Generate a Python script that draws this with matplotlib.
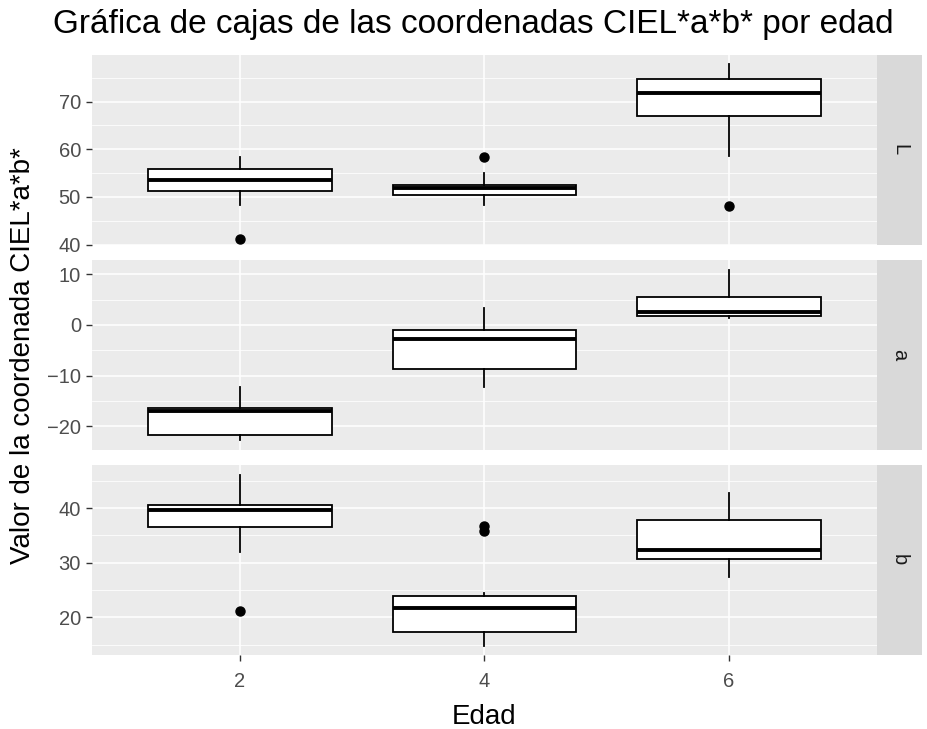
"""
Boxplots of CIEL*a*b* coordinates by age, ggplot-style facet_grid (3 rows).
"""
import matplotlib
matplotlib.use("Agg")
import matplotlib.pyplot as plt
from matplotlib.ticker import MultipleLocator

plt.rcParams["font.family"] = ["Liberation Sans", "DejaVu Sans"]

# ---- data ----
ages = [2, 4, 6]

L_whislo = [48.2, 48.2, 58.5]
L_q1 = [51.3, 50.3, 67.0]
L_med = [53.5, 51.9, 71.8]
L_q3 = [55.8, 52.4, 74.8]
L_whishi = [58.4, 55.1, 78.0]
L_fliers = [[41.2], [58.3], [48.0]]

a_whislo = [-22.8, -12.3, 1.3]
a_q1 = [-21.8, -8.7, 1.8]
a_med = [-17.0, -2.8, 2.6]
a_q3 = [-16.5, -1.1, 5.4]
a_whishi = [-12.2, 3.3, 10.9]
a_fliers = [[], [], []]

b_whislo = [31.9, 14.7, 27.4]
b_q1 = [36.5, 17.3, 30.7]
b_med = [39.7, 21.7, 32.3]
b_q3 = [40.5, 23.9, 37.9]
b_whishi = [46.0, 24.4, 42.8]
b_fliers = [[21.1], [36.8, 35.8], []]

facets = ["L", "a", "b"]
ylims = {"L": (39.9, 79.8), "a": (-24.7, 12.8), "b": (13.1, 47.9)}

series = {
    "L": (L_whislo, L_q1, L_med, L_q3, L_whishi, L_fliers),
    "a": (a_whislo, a_q1, a_med, a_q3, a_whishi, a_fliers),
    "b": (b_whislo, b_q1, b_med, b_q3, b_whishi, b_fliers),
}

W, H = 927, 729
fig = plt.figure(figsize=(W / 100, H / 100), dpi=100)

PX_L, PX_R, STRIP_R = 92, 877, 922
tops = [55, 260, 465]
PH = 190

for fac, top in zip(facets, tops):
    ax = fig.add_axes([PX_L / W, 1 - (top + PH) / H, (PX_R - PX_L) / W, PH / H])
    lo, q1, med, q3, hi, fl = series[fac]
    stats = [dict(whislo=lo[i], q1=q1[i], med=med[i], q3=q3[i], whishi=hi[i],
                  fliers=fl[i]) for i in range(len(ages))]
    ax.set_facecolor("#EBEBEB")
    ax.bxp(stats, positions=ages, widths=1.5, showcaps=False, patch_artist=True,
           boxprops=dict(facecolor="white", edgecolor="black", linewidth=1.3),
           medianprops=dict(color="black", linewidth=2.8, solid_capstyle="butt"),
           whiskerprops=dict(color="black", linewidth=1.3),
           flierprops=dict(marker="o", markerfacecolor="black", markeredgecolor="black",
                           markersize=6.5), zorder=3)
    ax.set_xlim(0.79, 7.21)
    ax.set_ylim(*ylims[fac])
    ax.yaxis.set_major_locator(MultipleLocator(10))
    ax.yaxis.set_minor_locator(MultipleLocator(5))
    ax.set_xticks(ages)
    ax.grid(which="major", color="white", linewidth=1.1, zorder=0)
    ax.grid(which="minor", axis="y", color="white", linewidth=0.55, zorder=0)
    ax.set_axisbelow(True)
    for s in ax.spines.values():
        s.set_visible(False)
    ax.tick_params(axis="both", which="major", length=4, width=1, color="#333333",
                   labelcolor="#4D4D4D", labelsize=14.5)
    ax.tick_params(axis="y", pad=4)
    ax.tick_params(axis="x", pad=8)
    ax.tick_params(axis="both", which="minor", length=0)
    if fac != "b":
        ax.tick_params(axis="x", labelbottom=False, length=0)
    # strip on the right
    sax = fig.add_axes([PX_R / W, 1 - (top + PH) / H, (STRIP_R - PX_R) / W, PH / H])
    sax.set_facecolor("#D9D9D9")
    sax.set_xticks([]); sax.set_yticks([])
    for s in sax.spines.values():
        s.set_visible(False)
    sax.text(0.5, 0.5, fac, rotation=-90, ha="center", va="center",
             fontsize=14.5, color="#1A1A1A", transform=sax.transAxes)

fig.text(473 / W, 1 - 33 / H, "Gráfica de cajas de las coordenadas CIEL*a*b* por edad",
         ha="center", va="baseline", fontsize=24, color="black")
fig.text(23 / W, 1 - 356 / H, "Valor de la coordenada CIEL*a*b*", rotation=90,
         ha="center", va="center", fontsize=20, color="black")
fig.text((PX_L + PX_R) / 2 / W, 1 - 724 / H, "Edad", ha="center", va="baseline",
         fontsize=20, color="black")

fig.savefig("out.png", dpi=100)
